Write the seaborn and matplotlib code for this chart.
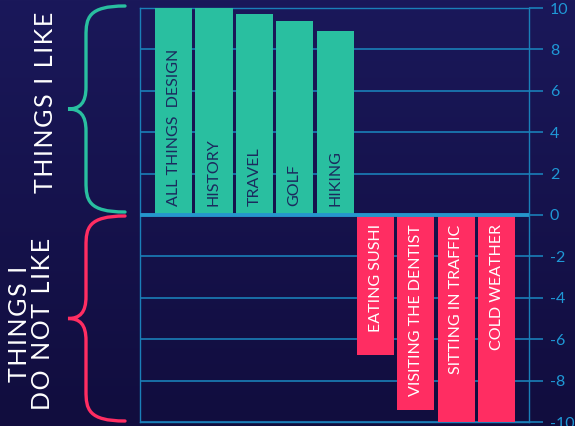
import numpy as np
import pandas as pd
import matplotlib
matplotlib.use("Agg")
import matplotlib.pyplot as plt
from matplotlib.path import Path
from matplotlib.patches import PathPatch
import seaborn as sns

# data
things = ["ALL THINGS  DESIGN", "HISTORY", "TRAVEL", "GOLF", "HIKING",
          "EATING SUSHI", "VISITING THE DENTIST", "SITTING IN TRAFFIC", "COLD WEATHER"]
scores = [10, 10, 9.7, 9.35, 8.9, -6.75, -9.4, -10, -10]
groups = ["like"] * 5 + ["dislike"] * 4
yticks = [10, 8, 6, 4, 2, 0, -2, -4, -6, -8, -10]

GREEN = "#29bfa0"
RED = "#ff2d62"
GRID = "#1a7fb8"
TICKC = "#1f98d6"
NAVY = "#1b2a5e"

df = pd.DataFrame({"thing": things, "score": scores, "group": groups})

sns.set_style("white")
plt.rcParams["font.family"] = ["Lato", "DejaVu Sans"]
plt.rcParams["axes.unicode_minus"] = False

W, H = 575, 426
fig = plt.figure(figsize=(W / 100, H / 100), dpi=100)

# gradient background
bg = fig.add_axes([0, 0, 1, 1], zorder=-5)
grad = np.linspace(0, 1, 256).reshape(-1, 1)
top = np.array([0x1a, 0x18, 0x5a]) / 255
bot = np.array([0x11, 0x0d, 0x3e]) / 255
img = top + (bot - top) * grad[..., None]
bg.imshow(img, aspect="auto", extent=[0, 1, 0, 1])
bg.axis("off")

ax = fig.add_axes([140 / W, 1 - 422 / H, (529 - 140) / W, (422 - 8) / H])
ax.set_facecolor("none")

sns.barplot(data=df, x="thing", y="score", hue="group",
            palette={"like": GREEN, "dislike": RED}, width=0.92,
            dodge=False, legend=False, saturation=1, linewidth=0,
            edgecolor="none", ax=ax, zorder=3)

ax.set_xlim(-0.83, len(things) - 1 + 0.8)
ax.set_ylim(-10, 10)
ax.set_yticks(yticks)
ax.yaxis.tick_right()
ax.tick_params(axis="y", length=10, width=1.2, color=GRID, colors=TICKC,
               labelsize=11.5, pad=5, labelcolor=TICKC)
ax.set_xticks([])
ax.set_xlabel("")
ax.set_ylabel("")
ax.grid(axis="y", color=GRID, lw=1.2, zorder=0)
ax.set_axisbelow(True)
for s in ax.spines.values():
    s.set_color(GRID)
    s.set_linewidth(1.0)
ax.axhline(0, color="#2596cc", lw=2.8, zorder=4)

for i, (t, v) in enumerate(zip(things, scores)):
    if v > 0:
        ax.text(i, 0.45, t, rotation=90, ha="center", va="bottom",
                color=NAVY, fontsize=11.5, zorder=5)
    else:
        ax.text(i, -0.45, t, rotation=90, ha="center", va="top",
                color="white", fontsize=11.5, zorder=5)


def brace(y0, y1, color):
    # curly brace in pixel coords (y measured from top)
    xe, xs, xt = 125, 86, 68
    ym = (y0 + y1) / 2
    r = 30
    verts = [
        (xe, y0),
        (xs + 2, y0), (xs, y0 + 12), (xs, y0 + r),
        (xs, ym - 22),
        (xs, ym - 6), (xs - 6, ym), (xt, ym),
        (xs - 6, ym), (xs, ym + 6), (xs, ym + 22),
        (xs, y1 - r),
        (xs, y1 - 12), (xs + 2, y1), (xe, y1),
    ]
    codes = [Path.MOVETO,
             Path.CURVE4, Path.CURVE4, Path.CURVE4,
             Path.LINETO,
             Path.CURVE4, Path.CURVE4, Path.CURVE4,
             Path.CURVE4, Path.CURVE4, Path.CURVE4,
             Path.LINETO,
             Path.CURVE4, Path.CURVE4, Path.CURVE4]
    verts = [(x / W, 1 - y / H) for x, y in verts]
    fig.add_artist(PathPatch(Path(verts, codes), facecolor="none",
                             edgecolor=color, lw=2.4, transform=fig.transFigure,
                             capstyle="round"))


def spaced(s):
    # wider letter spacing, like the original lettering
    return "\u200a".join(s)


brace(6, 212, GREEN)
brace(216, 421, RED)

fig.text(46 / W, 1 - 102 / H, spaced("THINGS I LIKE"), rotation=90, ha="center",
         va="center", color="white", fontsize=18)
fig.text(31 / W, 1 - 324 / H, spaced("THINGS I") + "\n" + spaced("DO NOT LIKE"),
         rotation=90, ha="center", va="center", color="white", fontsize=18,
         multialignment="center", linespacing=1.0)

fig.savefig("out.png", dpi=100)
